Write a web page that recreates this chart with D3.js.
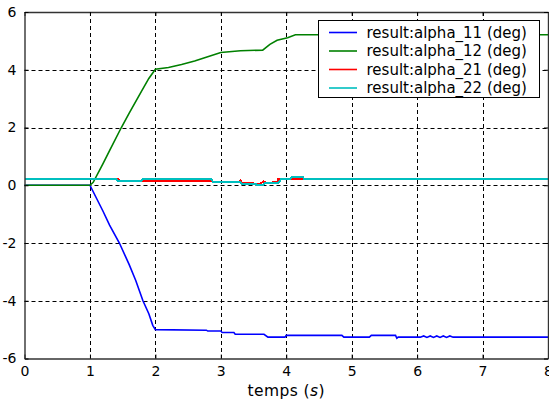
<!DOCTYPE html>
<html>
<head>
<meta charset="utf-8">
<script src="https://cdn.jsdelivr.net/npm/d3@7"></script>
<style>
html,body{margin:0;padding:0;background:#fff;}
svg{display:block;}
</style>
</head>
<body>
<svg id="chart" width="549" height="406"></svg>
<script>
// ---- data ----
const seriesNames = ["result:alpha_11 (deg)", "result:alpha_12 (deg)", "result:alpha_21 (deg)", "result:alpha_22 (deg)"];
const seriesColors = ["#0000ff", "#008000", "#ff0000", "#00bfbf"];
const xTicks = [0, 1, 2, 3, 4, 5, 6, 7, 8];
const yTicks = [-6, -4, -2, 0, 2, 4, 6];
const xLabel = "temps";

const alpha11 = [
  [0,0],[1,0],[1.1,-0.45],[1.2,-0.9],[1.3,-1.38],[1.45,-2.0],[1.6,-2.75],[1.7,-3.3],[1.81,-4.0],[1.9,-4.45],[1.96,-4.85],[2.0,-5.0],
  [2.78,-5.02],[2.8,-5.05],[3.0,-5.05],[3.02,-5.1],[3.2,-5.1],[3.22,-5.16],[3.66,-5.16],[3.72,-5.26],[3.98,-5.26],[4.0,-5.2],
  [4.85,-5.2],[4.88,-5.26],[5.27,-5.26],[5.3,-5.2],[5.67,-5.2],[5.69,-5.3],[5.71,-5.26],[6.05,-5.26],
  [6.1,-5.22],[6.15,-5.27],[6.2,-5.22],[6.25,-5.27],[6.3,-5.22],[6.35,-5.27],[6.4,-5.22],[6.45,-5.27],[6.5,-5.22],[6.55,-5.26],[8,-5.26]
];
const alpha12 = [
  [0,0],[1,0],[1.05,0.1],[1.2,0.75],[1.3,1.2],[1.48,2.0],[1.6,2.5],[1.8,3.3],[1.9,3.7],[2.0,4.02],
  [2.2,4.08],[2.4,4.18],[2.6,4.3],[2.8,4.45],[3.0,4.6],[3.3,4.66],[3.64,4.68],[3.75,4.88],[3.86,5.02],[4.02,5.11],[4.14,5.21],[8,5.21]
];
const alpha21 = [
  [0,0.2],[1.41,0.2],[1.43,0.22],[1.45,0.15],[2.86,0.14],[2.88,0.12],[3.28,0.12],[3.3,0.16],[3.32,0.08],[3.6,0.05],
  [3.65,0.13],[3.7,0.09],[3.86,0.1],[3.88,0.23],[4.2,0.23],[4.25,0.2],[8,0.2]
];
const alpha22 = [
  [0,0.2],[1.41,0.2],[1.42,0.15],[1.79,0.15],[1.8,0.2],[2.86,0.2],[2.88,0.11],[3.3,0.11],[3.32,0.06],[3.52,0.06],[3.55,0.02],
  [3.65,0.02],[3.67,0.08],[3.88,0.08],[3.92,0.2],[4.06,0.2],[4.08,0.27],[4.26,0.27],[4.28,0.2],[8,0.2]
];
const seriesData = [alpha11, alpha12, alpha21, alpha22];

// ---- layout ----
const svg = d3.select("#chart");
const L = 24.5, R = 548, T = 12, B = 358.5;
const x = d3.scaleLinear().domain([0, 8]).range([L, R]);
const y = d3.scaleLinear().domain([-6, 6]).range([B, T]);
const tickFont = "DejaVu Sans, Verdana, sans-serif";

// grid
const grid = svg.append("g");
grid.selectAll("line.gx").data(xTicks.slice(1, -1)).join("line")
  .attr("x1", d => Math.round(x(d)) + 0.5).attr("x2", d => Math.round(x(d)) + 0.5)
  .attr("y1", T).attr("y2", B)
  .attr("stroke", "#000").attr("stroke-width", 1).attr("stroke-dasharray", "4,3");
grid.selectAll("line.gy").data(yTicks.slice(1, -1)).join("line")
  .attr("y1", d => Math.round(y(d)) + 0.5).attr("y2", d => Math.round(y(d)) + 0.5)
  .attr("x1", L).attr("x2", R)
  .attr("stroke", "#000").attr("stroke-width", 1).attr("stroke-dasharray", "4,3");

// series
const line = d3.line().x(d => x(d[0])).y(d => y(d[1]));
seriesData.forEach((s, i) => {
  const p = svg.append("path").datum(s).attr("d", line)
    .attr("fill", "none").attr("stroke", seriesColors[i]).attr("stroke-width", i >= 2 ? 2 : 1.6);
  if (i >= 2) p.attr("shape-rendering", "crispEdges");
});

// axes
const axB = svg.append("g").attr("transform", `translate(0,${B})`)
  .call(d3.axisBottom(x).tickValues(xTicks).tickSizeInner(-4).tickSizeOuter(0).tickPadding(8).tickFormat(d3.format("d")));
const axT = svg.append("g").attr("transform", `translate(0,${T})`)
  .call(d3.axisTop(x).tickValues(xTicks).tickSizeInner(-4).tickSizeOuter(0).tickFormat(""));
const axL = svg.append("g").attr("transform", `translate(${L},0)`)
  .call(d3.axisLeft(y).tickValues(yTicks).tickSizeInner(-4).tickSizeOuter(0).tickPadding(8).tickFormat(d3.format("d")));
const axR = svg.append("g").attr("transform", `translate(${R},0)`)
  .call(d3.axisRight(y).tickValues(yTicks).tickSizeInner(-4).tickSizeOuter(0).tickFormat(""));
[axB, axT, axL, axR].forEach(a => {
  a.select(".domain").attr("stroke", "#333").attr("stroke-width", 1.4);
  a.selectAll(".tick line").attr("stroke", "#000");
  a.selectAll("text").attr("font-family", tickFont).attr("font-size", 14).attr("fill", "#000");
});
axL.selectAll("text").text(d => d < 0 ? "-" + Math.abs(d) : d);

// x label
const xl = svg.append("text").attr("x", (L + R) / 2).attr("y", 396)
  .attr("text-anchor", "middle").attr("font-family", tickFont).attr("font-size", 15.5)
  .attr("letter-spacing", 0.4).attr("fill", "#000");
xl.append("tspan").text(xLabel + " (");
xl.append("tspan").attr("font-style", "italic").text("s");
xl.append("tspan").text(")");

// legend
const lg = svg.append("g");
lg.append("rect").attr("x", 318.5).attr("y", 20.5).attr("width", 221).attr("height", 77)
  .attr("fill", "#fff").attr("stroke", "#000").attr("stroke-width", 1);
seriesNames.forEach((n, i) => {
  const yy = 32.5 + i * 18.5;
  lg.append("line").attr("x1", 329).attr("x2", 357).attr("y1", yy).attr("y2", yy)
    .attr("stroke", seriesColors[i]).attr("stroke-width", 1.6);
  lg.append("text").attr("x", 366.5).attr("y", yy).attr("dy", "0.36em")
    .attr("font-family", tickFont).attr("font-size", 15).attr("fill", "#000").text(n);
});
</script>
</body>
</html>
